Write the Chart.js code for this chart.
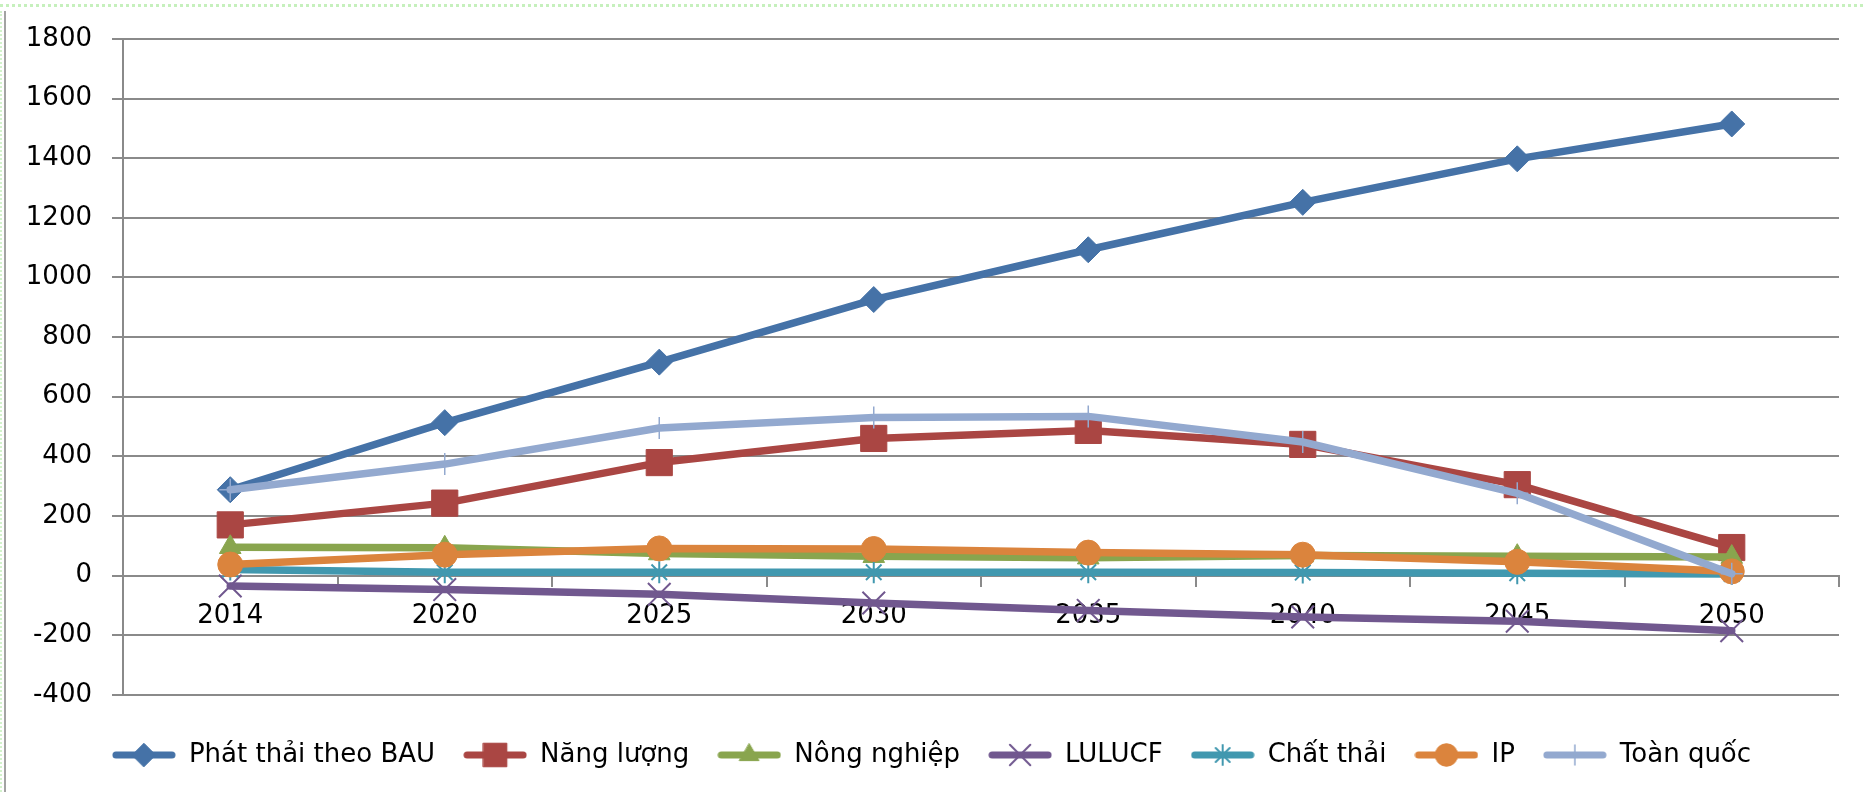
<!DOCTYPE html>
<html lang="vi">

<head>
    <meta charset="UTF-8">
    <title>Phát thải theo BAU</title>
    <style>
        html, body { margin: 0; padding: 0; background: #fff; }
        .khung { position: relative; width: 1863px; height: 792px; overflow: hidden; }
        .vien-tren { position: absolute; left: 0; top: 4px; width: 1863px; border-top: 3px dotted #c6f0bd; }
        .vien-trai { position: absolute; left: 4px; top: 11px; width: 2px; height: 781px; background: #a3a3a3; }
        .cham-trai { position: absolute; left: 0; top: 11px; height: 781px; border-left: 2px dotted #d2f2cb; }
        canvas { position: absolute; left: 0; top: 0; }
    </style>
</head>

<body>
    <div class="khung">
        <div class="vien-tren"></div>
        <div class="cham-trai"></div>
        <div class="vien-trai"></div>
        <canvas id="bieuDo" width="1863" height="792"></canvas>
    </div>

    <script src="https://cdn.jsdelivr.net/npm/chart.js"></script>
    <script>
        // so lieu doc tu hinh
        const nam = ['2014', '2020', '2025', '2030', '2035', '2040', '2045', '2050'];
        const phatThaiBAU = [288, 513, 716, 926, 1093, 1252, 1398, 1515];
        const nangLuong = [170, 243, 379, 460, 487, 440, 305, 94];
        const nongNghiep = [95, 93, 74, 65, 60, 67, 65, 62];
        const lulucf = [-35, -47, -63, -92, -117, -139, -153, -185];
        const chatThai = [20, 11, 11, 11, 11, 10, 8, 5];
        const ip = [37, 70, 91, 89, 77, 70, 46, 14];
        const toanQuoc = [288, 374, 495, 530, 534, 448, 276, 6];

        const mauLuoi = '#8a8a8a';
        const chu = { family: 'DejaVu Sans', size: 26 };

        const dsSeries = [
            { ten: 'Phát thải theo BAU', data: phatThaiBAU, mau: '#4572A7', kieu: 'rectRot', r: 13, bw: 1 },
            { ten: 'Năng lượng', data: nangLuong, mau: '#AA4643', kieu: 'rect', r: 18.5, bw: 1 },
            { ten: 'Nông nghiệp', data: nongNghiep, mau: '#89A54E', kieu: 'triangle', r: 12.5, bw: 1 },
            { ten: 'LULUCF', data: lulucf, mau: '#71588F', kieu: 'crossRot', r: 16, bw: 2 },
            { ten: 'Chất thải', data: chatThai, mau: '#4198AF', kieu: 'star', r: 11, bw: 2 },
            { ten: 'IP', data: ip, mau: '#DB843D', kieu: 'circle', r: 12.5, bw: 1 },
            { ten: 'Toàn quốc', data: toanQuoc, mau: '#93A9CF', kieu: 'cross', r: 11, bw: 1.5 }
        ];

        // icon chu giai: doan thang + diem
        function iconChuGiai(s) {
            const c = document.createElement('canvas');
            c.width = 64;
            c.height = 36;
            const g = c.getContext('2d');
            g.strokeStyle = s.mau;
            g.fillStyle = s.mau;
            g.lineCap = 'round';
            g.lineWidth = 7;
            g.beginPath();
            g.moveTo(4, 18);
            g.lineTo(60, 18);
            g.stroke();
            g.lineWidth = s.bw;
            Chart.helpers.drawPoint(g, { pointStyle: s.kieu, radius: s.r * 0.9, borderWidth: s.bw, rotation: 0 }, 32, 18);
            return c;
        }

        const n = dsSeries.length;
        const datasets = dsSeries.map((s, i) => ({
            label: s.ten,
            data: s.data,
            borderColor: s.mau,
            backgroundColor: s.mau,
            borderWidth: 7.5,
            borderJoinStyle: 'round',
            borderCapStyle: 'round',
            tension: 0,
            pointStyle: s.kieu,
            pointRadius: s.r,
            pointBorderWidth: s.bw,
            pointBackgroundColor: s.mau,
            pointBorderColor: s.mau,
            order: n - i
        }));

        new Chart(document.getElementById('bieuDo'), {
            type: 'line',
            data: { labels: nam, datasets: datasets },
            options: {
                responsive: false,
                animation: false,
                layout: { padding: { left: 24, top: 39, right: 24, bottom: 14 } },
                plugins: {
                    tooltip: { enabled: false },
                    legend: {
                        position: 'bottom',
                        // tieu de rong chi de tao khoang trong phia tren chu giai
                        title: { display: true, text: '', padding: 0, color: '#000', font: { size: 16 } },
                        labels: {
                            usePointStyle: true,
                            pointStyleWidth: 64,
                            padding: 28,
                            color: '#000',
                            font: { family: 'DejaVu Sans', size: 26 },
                            generateLabels: () => dsSeries.map((s, i) => ({
                                text: s.ten,
                                fontColor: '#000',
                                pointStyle: iconChuGiai(s),
                                fillStyle: s.mau,
                                strokeStyle: s.mau,
                                lineWidth: 0,
                                hidden: false,
                                datasetIndex: i
                            }))
                        }
                    }
                },
                scales: {
                    x: {
                        type: 'category',
                        offset: true,
                        position: { y: 0 },
                        grid: { offset: true, drawOnChartArea: false, drawTicks: true, tickLength: 10, color: mauLuoi, lineWidth: 2 },
                        border: { display: true, color: mauLuoi, width: 2 },
                        ticks: { font: chu, color: '#000', padding: 15, maxRotation: 0, autoSkip: false }
                    },
                    y: {
                        min: -400,
                        max: 1800,
                        ticks: { stepSize: 200, font: chu, color: '#000', padding: 20, callback: (v) => String(v) },
                        grid: { color: mauLuoi, lineWidth: 2, tickLength: 11 },
                        border: { display: true, color: mauLuoi, width: 2 },
                        afterFit: (s) => { s.width = 99; }
                    }
                }
            }
        });
    </script>
</body>

</html>
